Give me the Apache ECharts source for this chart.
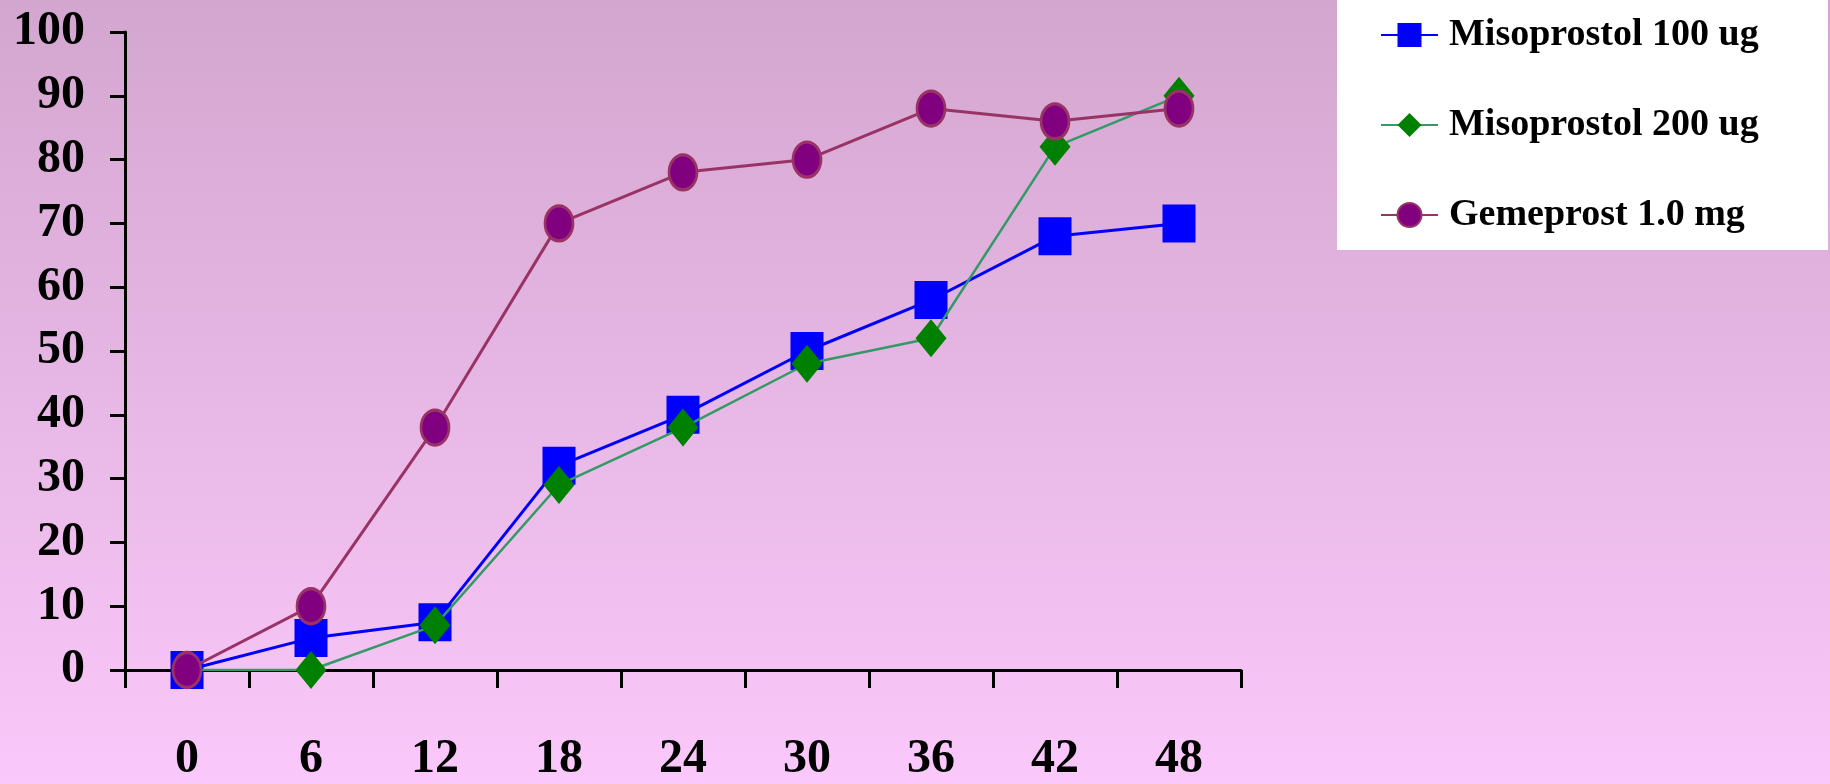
<!DOCTYPE html>
<html>
<head>
<meta charset="utf-8">
<script src="https://cdn.jsdelivr.net/npm/echarts@6/dist/echarts.min.js"></script>
<style>
  html, body { margin: 0; padding: 0; }
  #chart { width: 1830px; height: 784px; }
</style>
</head>
<body>
<div id="chart"></div>
<script>
// Hours after administration
const hours = ['0', '6', '12', '18', '24', '30', '36', '42', '48'];

// Cumulative percentage per regimen
const miso100 = [0, 5, 7.5, 32, 40, 50, 58, 68, 70];
const miso200 = [0, 0, 7, 29, 38, 48, 52, 82, 90];
const gemeprost = [0, 10, 38, 70, 78, 80, 88, 86, 88];

const seriesNames = ['Misoprostol 100 ug', 'Misoprostol 200 ug', 'Gemeprost 1.0 mg'];

const FONT = '"Liberation Serif", "Times New Roman", serif';
const ELLIPSE = 'path://M0,1 A1,1 0 1,1 2,1 A1,1 0 1,1 0,1 Z';

const chart = echarts.init(document.getElementById('chart'), null, { renderer: 'canvas' });

chart.setOption({
  animation: false,
  backgroundColor: {
    type: 'linear', x: 0, y: 0, x2: 0, y2: 1,
    colorStops: [
      { offset: 0, color: '#d3a6cf' },
      { offset: 1, color: '#fac8fa' }
    ]
  },
  graphic: [{
    type: 'rect',
    left: 1337, top: 0,
    shape: { width: 491, height: 250 },
    style: { fill: '#ffffff' },
    z: 0
  }],
  legend: {
    orient: 'vertical',
    left: 1380,
    top: 16,
    itemWidth: 57,
    itemHeight: 30,
    itemGap: 52,
    padding: 0,
    textStyle: {
      fontFamily: FONT,
      fontWeight: 'bold',
      fontSize: 38,
      color: '#000',
      padding: [0, 0, 0, 6]
    },
    data: seriesNames
  },
  grid: {
    left: 125,
    right: 589,
    top: 32,
    bottom: 111,
    containLabel: false
  },
  xAxis: {
    type: 'category',
    data: hours,
    boundaryGap: true,
    axisLine: { lineStyle: { color: '#000', width: 3 } },
    axisTick: { show: true, length: 18, lineStyle: { color: '#000', width: 3 } },
    axisLabel: {
      color: '#000',
      fontFamily: FONT,
      fontWeight: 'bold',
      fontSize: 48,
      margin: 66
    },
    splitLine: { show: false }
  },
  yAxis: {
    type: 'value',
    min: 0,
    max: 100,
    interval: 10,
    axisLine: { show: true, lineStyle: { color: '#000', width: 3 } },
    axisTick: { show: true, length: 15, lineStyle: { color: '#000', width: 3 } },
    axisLabel: {
      color: '#000',
      fontFamily: FONT,
      fontWeight: 'bold',
      fontSize: 48,
      margin: 40
    },
    splitLine: { show: false }
  },
  series: [
    {
      name: seriesNames[0],
      type: 'line',
      data: miso100,
      symbol: 'rect',
      symbolSize: [33, 38],
      itemStyle: { color: '#0000ff' },
      lineStyle: { color: '#0000ff', width: 3 },
      z: 2
    },
    {
      name: seriesNames[1],
      type: 'line',
      data: miso200,
      symbol: 'diamond',
      symbolSize: [31, 38],
      itemStyle: { color: '#008000' },
      lineStyle: { color: '#339966', width: 2.5 },
      z: 3
    },
    {
      name: seriesNames[2],
      type: 'line',
      data: gemeprost,
      symbol: ELLIPSE,
      symbolSize: [28, 35],
      itemStyle: { color: '#800080', borderColor: '#993366', borderWidth: 3 },
      lineStyle: { color: '#993366', width: 3 },
      z: 4
    }
  ]
});
</script>
</body>
</html>
